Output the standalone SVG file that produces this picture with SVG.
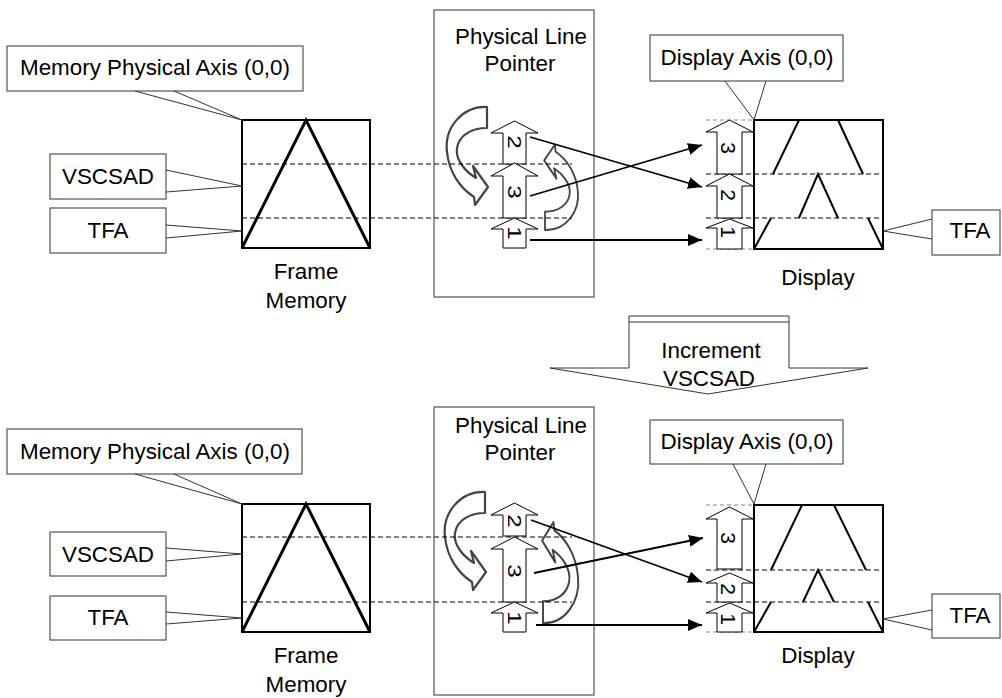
<svg xmlns="http://www.w3.org/2000/svg" width="1002" height="698" viewBox="0 0 1002 698">
<style>
text{font-family:"Liberation Sans",Arial,sans-serif;fill:#000}
.lbl{font-size:22.4px;text-anchor:middle}
.dig{font-size:18px;text-anchor:middle}
.ddig{font-size:21px;text-anchor:middle}
.box{fill:#fff;stroke:#333;stroke-width:1}
.tail{fill:none;stroke:#333;stroke-width:1}
.frame{fill:#fff;stroke:#000;stroke-width:2}
.tri{fill:none;stroke:#000;stroke-width:3;stroke-linejoin:miter}
.shape{fill:none;stroke:#000;stroke-width:2}
.dash{stroke:#000;stroke-width:1;stroke-dasharray:5,3;fill:none}
.gdash{stroke:#888;stroke-width:1.2;stroke-dasharray:4,3;fill:none}
.barrow{fill:#fff;stroke:#000;stroke-width:1}
.curve{fill:#fff;stroke:#444;stroke-width:2.2;stroke-linejoin:round}
.conn{stroke:#000;stroke-width:1.8;fill:none;marker-end:url(#ah)}
</style>
<defs>
<marker id="ah" markerUnits="userSpaceOnUse" markerWidth="14" markerHeight="12" refX="14" refY="6" orient="auto">
<path d="M0,0 L14,6 L0,12 Z" fill="#000"/>
</marker>
<path id="carrow" d="M0,0 C-25,-1 -43,21 -40,45 C-38,65 -27,81 -13,90 L-12,98 L1,80 L-14,59 L-11,71 C-21,65 -32,53 -30,41 C-28,28 -15,21 0,21 Z"/>
</defs>
<rect width="1002" height="698" fill="#fff"/>

<!-- ===== TOP HALF ===== -->
<g id="plp-top">
<rect class="box" x="434" y="10" width="160" height="287"/>
<text class="lbl" x="521" y="44">Physical Line</text>
<text class="lbl" x="520" y="71">Pointer</text>
</g>
<g id="frame-top">
<rect class="frame" x="242" y="120" width="128" height="128"/>
<polyline class="tri" points="242,248 306,120 370,248"/>
<text class="lbl" x="306" y="279">Frame</text>
<text class="lbl" x="306" y="308">Memory</text>
</g>
<g id="display-top">
<rect class="frame" x="754" y="120" width="129" height="129"/>
<line class="shape" x1="799" y1="120" x2="773" y2="174"/>
<line class="shape" x1="838" y1="120" x2="863" y2="174"/>
<polyline class="shape" points="799,218 818,174 838,218"/>
<line class="shape" x1="771" y1="218" x2="754" y2="249"/>
<line class="shape" x1="868" y1="218" x2="883" y2="249"/>
<text class="lbl" x="818" y="285">Display</text>
</g>
<g id="curves-top">
<use href="#carrow" class="curve" transform="translate(487,107)"/>
<use href="#carrow" class="curve" transform="translate(545,230) rotate(180) scale(0.82,0.87)"/>
</g>
<g id="dashes-top">
<line class="dash" x1="242" y1="164" x2="572" y2="164"/>
<line class="dash" x1="242" y1="218" x2="572" y2="218"/>
<line class="dash" x1="706" y1="174" x2="883" y2="174"/>
<line class="dash" x1="706" y1="218" x2="883" y2="218"/>
<line class="gdash" x1="706" y1="120" x2="754" y2="120"/>
<line class="gdash" x1="706" y1="249" x2="754" y2="249"/>
</g>
<g id="ptr-arrows-top">
<path class="barrow" d="M514.5,121 L538,133 L526,133 L526,164 L503,164 L503,133 L491,133 Z"/>
<text class="dig" transform="translate(514,142) rotate(90) scale(1.35,1)" dy="0.35em">2</text>
<path class="barrow" d="M514.5,163 L538,176 L526,176 L526,218 L503,218 L503,176 L491,176 Z"/>
<text class="dig" transform="translate(514,192) rotate(90) scale(1.35,1)" dy="0.35em">3</text>
<path class="barrow" d="M514.5,218 L538,229 L526,229 L526,248 L503,248 L503,229 L491,229 Z"/>
<text class="dig" transform="translate(514,233) rotate(90) scale(1.35,1)" dy="0.35em">1</text>
</g>
<g id="disp-arrows-top">
<path class="barrow" d="M729.5,120 L753,132 L742,132 L742,174 L717,174 L717,132 L706,132 Z"/>
<text class="ddig" transform="translate(728,148) rotate(90)" dy="0.35em">3</text>
<path class="barrow" d="M729.5,174 L753,186 L742,186 L742,218 L717,218 L717,186 L706,186 Z"/>
<text class="ddig" transform="translate(728,195) rotate(90)" dy="0.35em">2</text>
<path class="barrow" d="M729.5,219 L753,228 L742,228 L742,249 L717,249 L717,228 L706,228 Z"/>
<text class="ddig" transform="translate(728,232) rotate(90)" dy="0.35em">1</text>
</g>
<g id="callouts-top">
<rect class="box" x="7" y="46" width="296" height="45"/>
<polyline class="tail" points="135,91 242,120 174,91"/>
<text class="lbl" x="155" y="75">Memory Physical Axis (0,0)</text>
<rect class="box" x="50" y="154" width="116" height="45"/>
<polyline class="tail" points="166,170 242,186 166,192"/>
<text class="lbl" x="108" y="184">VSCSAD</text>
<rect class="box" x="50" y="208" width="116" height="45"/>
<polyline class="tail" points="166,225 242,231 166,238"/>
<text class="lbl" x="108" y="238">TFA</text>
<rect class="box" x="650" y="35" width="193" height="46"/>
<polyline class="tail" points="725,81 754,120 766,81"/>
<text class="lbl" x="747" y="65">Display Axis (0,0)</text>
<rect class="box" x="932" y="210" width="68" height="45"/>
<polyline class="tail" points="932,219 883,231 932,239"/>
<text class="lbl" x="970" y="238">TFA</text>
</g>

<!-- ===== INCREMENT ARROW ===== -->
<g id="increment">
<path class="box" d="M629,316 L789,316 L789,368 L868,368 L708,394 L550,368 L629,368 Z"/>
<line class="tail" x1="629" y1="322" x2="789" y2="322"/>
<text class="lbl" x="711" y="358">Increment</text>
<text class="lbl" x="709" y="386">VSCSAD</text>
</g>

<!-- ===== BOTTOM HALF ===== -->
<g id="plp-bottom">
<rect class="box" x="434" y="407" width="160" height="288"/>
<text class="lbl" x="521" y="433">Physical Line</text>
<text class="lbl" x="520" y="460">Pointer</text>
</g>
<g id="frame-bottom">
<rect class="frame" x="242" y="504" width="128" height="128"/>
<polyline class="tri" points="242,632 306,504 370,632"/>
<text class="lbl" x="306" y="663">Frame</text>
<text class="lbl" x="306" y="692">Memory</text>
</g>
<g id="display-bottom">
<rect class="frame" x="754" y="505" width="129" height="127"/>
<line class="shape" x1="802" y1="505" x2="771" y2="570"/>
<line class="shape" x1="834" y1="505" x2="866" y2="570"/>
<polyline class="shape" points="803,602 818,570 834,602"/>
<line class="shape" x1="771" y1="602" x2="754" y2="632"/>
<line class="shape" x1="868" y1="602" x2="883" y2="632"/>
<text class="lbl" x="818" y="663">Display</text>
</g>
<g id="curves-bottom">
<use href="#carrow" class="curve" transform="translate(485,492)"/>
<use href="#carrow" class="curve" transform="translate(543,623) rotate(180) scale(0.875,1.03)"/>
</g>
<g id="dashes-bottom">
<line class="dash" x1="242" y1="537" x2="572" y2="537"/>
<line class="dash" x1="242" y1="602" x2="572" y2="602"/>
<line class="dash" x1="706" y1="570" x2="883" y2="570"/>
<line class="dash" x1="706" y1="602" x2="883" y2="602"/>
<line class="gdash" x1="706" y1="505" x2="754" y2="505"/>
<line class="gdash" x1="706" y1="632" x2="754" y2="632"/>
</g>
<g id="ptr-arrows-bottom">
<path class="barrow" d="M514.5,503 L538,515 L526,515 L526,536 L503,536 L503,515 L491,515 Z"/>
<text class="dig" transform="translate(514,521) rotate(90) scale(1.35,1)" dy="0.35em">2</text>
<path class="barrow" d="M514.5,537 L538,549 L526,549 L526,602 L503,602 L503,549 L491,549 Z"/>
<text class="dig" transform="translate(514,571) rotate(90) scale(1.35,1)" dy="0.35em">3</text>
<path class="barrow" d="M514.5,602 L538,613 L526,613 L526,632 L503,632 L503,613 L491,613 Z"/>
<text class="dig" transform="translate(514,618) rotate(90) scale(1.35,1)" dy="0.35em">1</text>
</g>
<g id="disp-arrows-bottom">
<path class="barrow" d="M729.5,507 L753,519 L742,519 L742,569 L717,569 L717,519 L706,519 Z"/>
<text class="ddig" transform="translate(728,538) rotate(90)" dy="0.35em">3</text>
<path class="barrow" d="M729.5,573 L753,583 L742,583 L742,602 L717,602 L717,583 L706,583 Z"/>
<text class="ddig" transform="translate(728,589) rotate(90)" dy="0.35em">2</text>
<path class="barrow" d="M729.5,603 L753,613 L742,613 L742,632 L717,632 L717,613 L706,613 Z"/>
<text class="ddig" transform="translate(728,619) rotate(90)" dy="0.35em">1</text>
</g>
<g id="callouts-bottom">
<rect class="box" x="7" y="429" width="295" height="45"/>
<polyline class="tail" points="135,474 242,504 174,474"/>
<text class="lbl" x="155" y="459">Memory Physical Axis (0,0)</text>
<rect class="box" x="50" y="532" width="116" height="44"/>
<polyline class="tail" points="166,548 242,554 166,561"/>
<text class="lbl" x="108" y="562">VSCSAD</text>
<rect class="box" x="50" y="596" width="116" height="44"/>
<polyline class="tail" points="166,612 242,618 166,624"/>
<text class="lbl" x="108" y="625">TFA</text>
<rect class="box" x="650" y="420" width="193" height="44"/>
<polyline class="tail" points="733,464 754,504 766,464"/>
<text class="lbl" x="747" y="449">Display Axis (0,0)</text>
<rect class="box" x="932" y="594" width="68" height="44"/>
<polyline class="tail" points="932,610 883,619 932,630"/>
<text class="lbl" x="970" y="623">TFA</text>
</g>

<g id="connectors">
<line class="conn" x1="530" y1="137" x2="702" y2="187"/>
<line class="conn" x1="530" y1="196" x2="702" y2="145"/>
<line class="conn" x1="530" y1="240" x2="702" y2="240"/>
<line class="conn" x1="531" y1="520" x2="702" y2="582"/>
<line class="conn" x1="534" y1="573" x2="703" y2="538"/>
<line class="conn" x1="536" y1="625" x2="702" y2="625"/>
</g>
</svg>
